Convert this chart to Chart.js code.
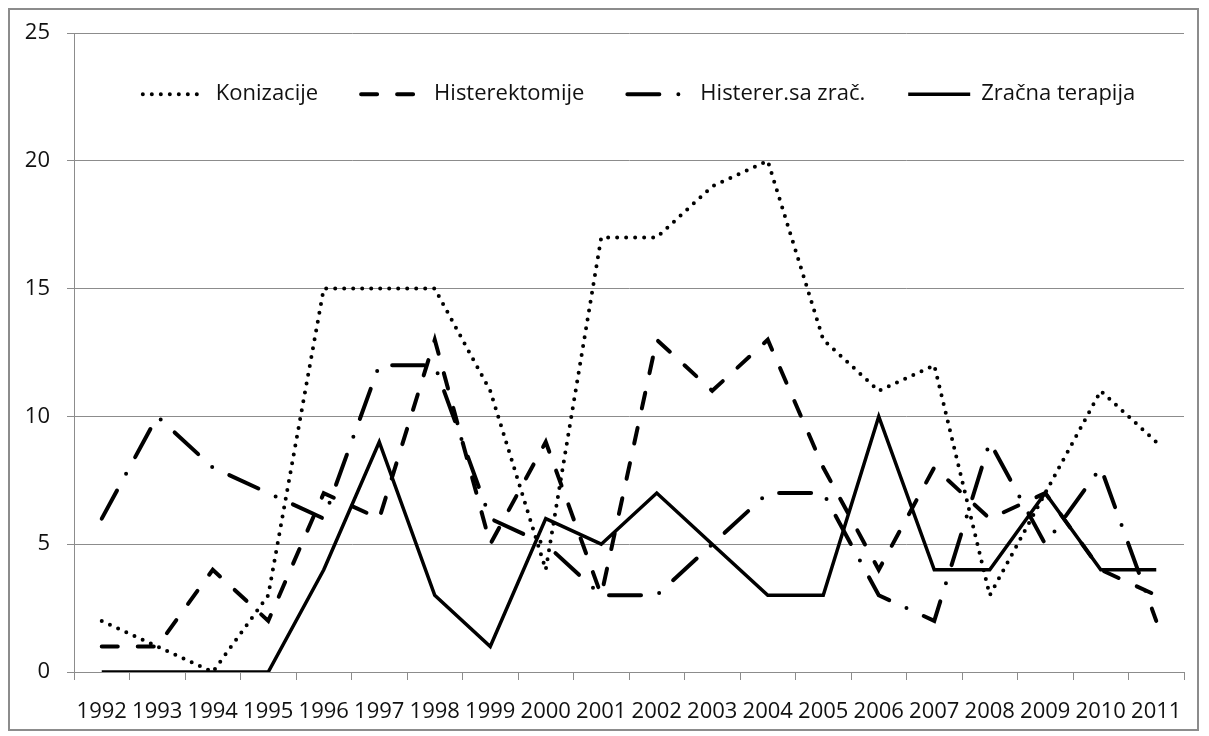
<!DOCTYPE html>
<html lang="sr">

<head>
    <meta charset="UTF-8">
    <title>Konizacije i histerektomije 1992-2011</title>
    <script src="https://cdn.jsdelivr.net/npm/chart.js"></script>
    <style>
        html, body { margin: 0; padding: 0; background: #fff; }
        .okvir { position: relative; width: 1209px; height: 736px; }
        .ivica {
            position: absolute; left: 8px; top: 8px; width: 1191px; height: 723px;
            box-sizing: border-box; border: 2px solid #8c8c8c; pointer-events: none;
        }
    </style>
</head>

<body>
    <div class="okvir">
        <canvas id="grafik" width="1209" height="736"></canvas>
        <div class="ivica"></div>
    </div>

<script>
    // podaci po godinama
    var godine = ['1992', '1993', '1994', '1995', '1996', '1997', '1998', '1999', '2000', '2001',
                  '2002', '2003', '2004', '2005', '2006', '2007', '2008', '2009', '2010', '2011'];
    var konizacije     = [2, 1, 0, 3, 15, 15, 15, 11, 4, 17, 17, 19, 20, 13, 11, 12, 3, 7, 11, 9];
    var histerektomije = [1, 1, 4, 2, 7, 6, 13, 5, 9, 3, 13, 11, 13, 8, 4, 8, 6, 7, 4, 3];
    var histererZrac   = [6, 10, 8, 7, 6, 12, 12, 6, 5, 3, 3, 5, 7, 7, 3, 2, 9, 5, 8, 2];
    var zracnaTerapija = [0, 0, 0, 0, 4, 9, 3, 1, 6, 5, 7, 5, 3, 3, 10, 4, 4, 7, 4, 4];
    var yTicks = [0, 5, 10, 15, 20, 25];

    var siva = '#8c8c8c';
    Chart.defaults.font.family = "'Open Sans', sans-serif";
    Chart.defaults.font.size = 22;
    Chart.defaults.color = '#111';

    function serija(naziv, vrednosti, crtice, debljina) {
        return {
            label: naziv,
            data: vrednosti,
            borderColor: '#000',
            backgroundColor: '#000',
            borderWidth: debljina,
            borderDash: crtice,
            borderCapStyle: crtice.length ? 'round' : 'butt',
            borderJoinStyle: 'miter',
            pointRadius: 0,
            pointHoverRadius: 0,
            pointStyle: 'line',
            tension: 0,
            fill: false
        };
    }

    // legenda ide unutar polja grafika: zauzima 1px u rasporedu, pa joj posle vracamo visinu
    var legendaUnutra = {
        id: 'legendaUnutra',
        afterLayout: function (chart) {
            var l = chart.legend;
            l.top = chart.chartArea.top - 2;
            l.height = 110;
            l.bottom = l.top + l.height;
            l.left += 10;
            l.right += 10;
        }
    };

    var ctx = document.getElementById('grafik').getContext('2d');
    new Chart(ctx, {
        type: 'line',
        data: {
            labels: godine,
            datasets: [
                serija('Konizacije', konizacije, [0, 9], 4),
                serija('Histerektomije', histerektomije, [16, 20], 4),
                serija('Histerer.sa zrač.', histererZrac, [32, 19, 0, 19], 4),
                serija('Zračna terapija', zracnaTerapija, [], 3.5)
            ]
        },
        options: {
            responsive: false,
            animation: false,
            layout: { padding: { left: 0, right: 25, top: 32, bottom: 0 } },
            plugins: {
                tooltip: { enabled: false },
                legend: {
                    position: 'top',
                    fullSize: false,
                    maxHeight: 1,
                    title: { display: true, text: '', font: { size: 1 }, padding: { top: 4, bottom: 4 } },
                    labels: {
                        usePointStyle: true,
                        pointStyleWidth: 62,
                        padding: 43,
                        color: '#111',
                        font: { size: 22 },
                        generateLabels: function (chart) {
                            return chart.data.datasets.map(function (ds, i) {
                                return {
                                    text: ds.label,
                                    datasetIndex: i,
                                    pointStyle: 'line',
                                    strokeStyle: ds.borderColor,
                                    fillStyle: ds.borderColor,
                                    lineWidth: ds.borderWidth,
                                    lineDash: ds.borderDash,
                                    lineCap: ds.borderCapStyle,
                                    fontColor: '#111',
                                    hidden: false
                                };
                            });
                        }
                    }
                }
            },
            scales: {
                x: {
                    offset: true,
                    grid: { display: true, drawOnChartArea: false, offset: true, tickLength: 8, color: siva },
                    border: { display: true, color: siva },
                    ticks: { padding: 19, maxRotation: 0, autoSkip: false, color: '#111' },
                    afterFit: function (s) { s.height = 64; }
                },
                y: {
                    min: 0,
                    max: 25,
                    afterBuildTicks: function (s) {
                        s.ticks = yTicks.map(function (v) { return { value: v }; });
                    },
                    grid: { color: siva, tickLength: 7 },
                    border: { display: true, color: siva },
                    ticks: { padding: 17, color: '#111' },
                    afterFit: function (s) { s.width = 74; }
                }
            }
        },
        plugins: [legendaUnutra]
    });
</script>
</body>

</html>
